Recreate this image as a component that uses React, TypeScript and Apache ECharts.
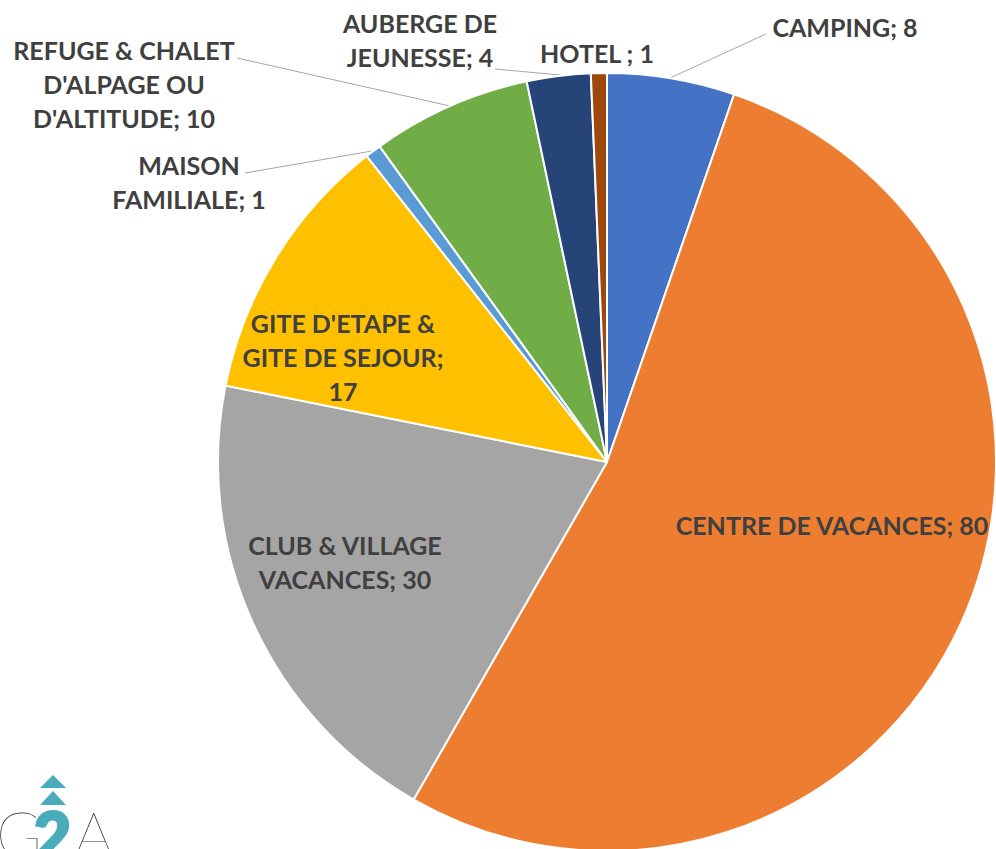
import React, { useEffect, useRef } from "react";
import * as echarts from "echarts";

const categories = [
  "CAMPING",
  "CENTRE DE VACANCES",
  "CLUB & VILLAGE VACANCES",
  "GITE D'ETAPE & GITE DE SEJOUR",
  "MAISON FAMILIALE",
  "REFUGE & CHALET D'ALPAGE OU D'ALTITUDE",
  "AUBERGE DE JEUNESSE",
  "HOTEL",
];
const values = [8, 80, 30, 17, 1, 10, 4, 1];
const labelTexts = [
  "CAMPING; 8",
  "CENTRE DE VACANCES; 80",
  "CLUB & VILLAGE\nVACANCES; 30",
  "GITE D'ETAPE &\nGITE DE SEJOUR;\n17",
  "MAISON\nFAMILIALE; 1",
  "REFUGE & CHALET\nD'ALPAGE OU\nD'ALTITUDE; 10",
  "AUBERGE DE\nJEUNESSE; 4",
  "HOTEL ; 1",
];
const colors = ["#4472C4", "#ED7D31", "#A5A5A5", "#FFC000", "#5B9BD5", "#70AD47", "#264478", "#9E480E"];

// label layout (pixel positions: centre of text block) and leader lines
const labelPos: [number, number][] = [
  [845, 27],
  [832, 525],
  [345, 562],
  [343, 357],
  [189, 182],
  [124, 84],
  [420, 40],
  [597, 53],
];
const leaderLines: ([number, number][] | null)[] = [
  [[670, 78], [766, 34]],
  null,
  null,
  null,
  [[372, 151], [245, 173]],
  [[450, 106], [237, 58]],
  [[560, 75], [495, 69]],
  null,
];

export default function App() {
  const ref = useRef<HTMLDivElement>(null);
  useEffect(() => {
    if (!ref.current) return;
    const chart = echarts.init(ref.current, undefined, { renderer: "svg" });
    const teal = "#4AABBA";
    chart.setOption({
      animation: false,
      backgroundColor: "#ffffff",
      color: colors,
      graphic: [
        { type: "polygon", shape: { points: [[53, 775], [40, 788], [66, 788]] }, style: { fill: teal } },
        { type: "polygon", shape: { points: [[53, 791], [40, 805], [66, 805]] }, style: { fill: teal } },
        {
          type: "text",
          x: -4,
          y: 802,
          style: { text: "G", font: "200 62px Lato, sans-serif", fill: "#222", verticalAlign: "top" },
        },
        {
          type: "text",
          x: 34,
          y: 802,
          style: {
            text: "2",
            font: "900 64px Lato, sans-serif",
            fill: teal,
            stroke: teal,
            lineWidth: 3,
            verticalAlign: "top",
          },
        },
        {
          type: "text",
          x: 74,
          y: 802,
          style: { text: "A", font: "200 62px Lato, sans-serif", fill: "#222", verticalAlign: "top" },
        },
      ],
      series: [
        {
          type: "pie",
          center: [607, 462],
          radius: 389,
          startAngle: 90,
          clockwise: true,
          avoidLabelOverlap: false,
          itemStyle: { borderColor: "#ffffff", borderWidth: 2 },
          label: {
            show: true,
            position: "outside",
            formatter: (p: any) => labelTexts[p.dataIndex],
            fontFamily: "Lato, sans-serif",
            fontWeight: "bold",
            fontSize: 25,
            lineHeight: 34,
            color: "#404040",
            align: "center",
          },
          labelLine: { show: true, lineStyle: { color: "#A6A6A6", width: 1 }, length: 10, length2: 10 },
          labelLayout: (params: any) => {
            const i = params.dataIndex;
            const pos = labelPos[i];
            const res: any = { x: pos[0], y: pos[1], align: "center", verticalAlign: "middle" };
            const ll = leaderLines[i];
            if (ll) res.labelLinePoints = [ll[0], ll[1], ll[1]];
            return res;
          },
          data: categories.map((name, i) => ({
            name,
            value: values[i],
            labelLine: { show: !!leaderLines[i] },
          })),
        },
      ],
    });
    return () => chart.dispose();
  }, []);
  return (
    <div
      ref={ref}
      style={{ position: "fixed", left: 0, top: 0, width: 996, height: 849 }}
    />
  );
}
